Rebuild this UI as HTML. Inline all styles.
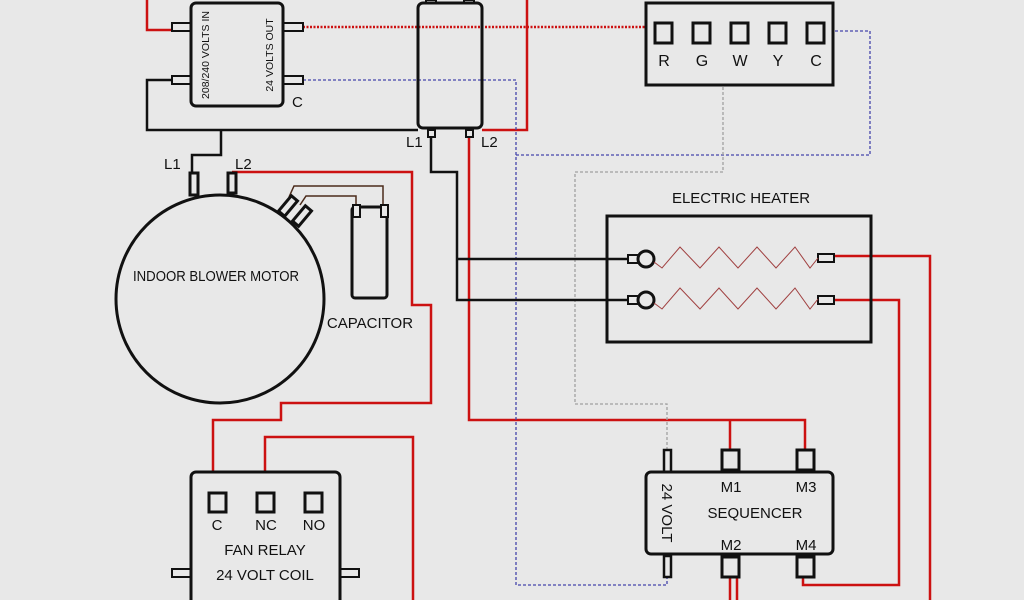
<!DOCTYPE html>
<html><head><meta charset="utf-8"><style>
html,body{margin:0;padding:0;background:#e8e8e8;}
svg{display:block;}
text{font-family:"Liberation Sans",sans-serif;fill:#111;}
</style></head><body>
<svg width="1024" height="600" viewBox="0 0 1024 600" xmlns="http://www.w3.org/2000/svg">
<rect width="1024" height="600" fill="#e8e8e8"/>
<g fill="none" stroke-linejoin="miter">
<g stroke="#cc1111" stroke-width="2.5">
<polyline points="171,30 147,30 147,0"/>
<polyline points="527,0 527,130 482,130"/>
<polyline points="469,137 469,420 805,420 805,452"/>
<polyline points="730,420 730,452"/>
<polyline points="232,172 412,172 412,305 431,305 431,403 281,403 281,420 213,420 213,494"/>
<polyline points="265,494 265,437 413,437 413,600"/>
<polyline points="834,256 930,256 930,600"/>
<polyline points="834,300 899,300 899,585 803,585 803,576"/>
<line x1="730" y1="578" x2="730" y2="600"/>
<line x1="737" y1="578" x2="737" y2="600"/>
</g>
<line x1="303" y1="27" x2="655" y2="27" stroke="#cc1111" stroke-width="2.5" stroke-dasharray="2,1.5"/>
<g stroke="#4444aa" stroke-width="1.3" stroke-dasharray="3,2">
<polyline points="303,80 516,80 516,585 667,585 667,577"/>
<polyline points="516,155 870,155 870,31 825,31"/>
</g>
<polyline points="731,30 723,30 723,172 575,172 575,404 667,404 667,450" stroke="#a0a0a0" stroke-width="1.3" stroke-dasharray="3,2"/>
<g stroke="#111" stroke-width="2.5">
<polyline points="171,80 147,80 147,130 418,130"/>
<polyline points="221,130 221,155 192,155 192,174"/>
<polyline points="431,137 431,172 457,172 457,300 628,300"/>
<line x1="457" y1="259" x2="628" y2="259"/>
</g>
<g stroke="#4a2a1a" stroke-width="1.5">
<polyline points="289,197 294,186 383,186 383,207"/>
<polyline points="300,205 306,196 356,196 356,207"/>
</g>
</g>

<g stroke="#111" stroke-width="3" fill="#e8e8e8">
<rect x="172" y="23" width="19" height="8" stroke-width="2"/>
<rect x="172" y="76" width="19" height="8" stroke-width="2"/>
<rect x="283" y="23" width="20" height="8" stroke-width="2"/>
<rect x="283" y="76" width="20" height="8" stroke-width="2"/>
<rect x="191" y="3" width="92" height="103" rx="5"/>
<rect x="426" y="0" width="10" height="3" stroke-width="2"/>
<rect x="464" y="0" width="10" height="3" stroke-width="2"/>
<rect x="418" y="3" width="64" height="125" rx="5" fill="none"/>
<rect x="428" y="130" width="7" height="7" stroke-width="2"/>
<rect x="466" y="130" width="7" height="7" stroke-width="2"/>
<rect x="646" y="3" width="187" height="82"/>
<rect x="655" y="23" width="17" height="20"/>
<rect x="693" y="23" width="17" height="20"/>
<rect x="731" y="23" width="17" height="20"/>
<rect x="769" y="23" width="17" height="20"/>
<rect x="807" y="23" width="17" height="20"/>
<rect x="190" y="173" width="8" height="22"/>
<rect x="228" y="173" width="8" height="20"/>
<g transform="rotate(40 288 206)"><rect x="284" y="196" width="8" height="20"/></g>
<g transform="rotate(40 302 216)"><rect x="298" y="206" width="8" height="20"/></g>
<circle cx="220" cy="299" r="104"/>
<rect x="352" y="207" width="35" height="91" rx="3"/>
<rect x="353" y="205" width="7" height="12" stroke-width="2"/>
<rect x="381" y="205" width="7" height="12" stroke-width="2"/>
<rect x="172" y="569" width="20" height="8" stroke-width="2"/>
<rect x="339" y="569" width="20" height="8" stroke-width="2"/>
<rect x="191" y="472" width="149" height="140" rx="5"/>
<rect x="209" y="493" width="17" height="19"/>
<rect x="257" y="493" width="17" height="19"/>
<rect x="305" y="493" width="17" height="19"/>
<rect x="607" y="216" width="264" height="126" fill="none"/>
<rect x="628" y="255" width="10" height="8" stroke-width="2"/>
<rect x="628" y="296" width="10" height="8" stroke-width="2"/>
<circle cx="646" cy="259" r="8"/>
<circle cx="646" cy="300" r="8"/>
<rect x="818" y="254" width="16" height="8" stroke-width="2"/>
<rect x="818" y="296" width="16" height="8" stroke-width="2"/>
<rect x="664" y="450" width="7" height="22" stroke-width="2.5"/>
<rect x="722" y="450" width="17" height="20"/>
<rect x="797" y="450" width="17" height="20"/>
<rect x="664" y="556" width="7" height="21" stroke-width="2.5"/>
<rect x="722" y="557" width="17" height="20"/>
<rect x="797" y="557" width="17" height="20"/>
<rect x="646" y="472" width="187" height="82" rx="5"/>
</g>
<g fill="none" stroke="#a04040" stroke-width="1">
<polyline points="654,262 662,268 680,247 700,268 719,247 738,268 757,247 776,268 795,247 810,268 818,258"/>
<polyline points="654,303 662,309 680,288 700,309 719,288 738,309 757,288 776,309 795,288 810,309 818,299"/>
</g>

<text transform="translate(209,55) rotate(-90)" font-size="10.5" text-anchor="middle">208/240 VOLTS IN</text>
<text transform="translate(273,55) rotate(-90)" font-size="10.5" text-anchor="middle">24 VOLTS OUT</text>
<text x="292" y="107" font-size="15">C</text>
<text x="406" y="147" font-size="15">L1</text>
<text x="481" y="147" font-size="15">L2</text>
<text x="164" y="169" font-size="15">L1</text>
<text x="235" y="169" font-size="15">L2</text>
<g font-size="15" text-anchor="middle">
<text x="664" y="66" font-size="16">R</text><text x="702" y="66" font-size="16">G</text><text x="740" y="66" font-size="16">W</text><text x="778" y="66" font-size="16">Y</text><text x="816" y="66" font-size="16">C</text>
<text x="216" y="281" textLength="166" lengthAdjust="spacingAndGlyphs">INDOOR BLOWER MOTOR</text>
<text x="370" y="328">CAPACITOR</text>
<text x="741" y="203">ELECTRIC HEATER</text>
<text x="217" y="530">C</text><text x="266" y="530">NC</text><text x="314" y="530">NO</text>
<text x="265" y="555">FAN RELAY</text>
<text x="265" y="580">24 VOLT COIL</text>
<text x="731" y="492">M1</text><text x="806" y="492">M3</text>
<text x="755" y="518">SEQUENCER</text>
<text x="731" y="550">M2</text><text x="806" y="550">M4</text>
</g>
<text transform="translate(662,513) rotate(90)" font-size="15" text-anchor="middle">24 VOLT</text>
</svg>
</body></html>
